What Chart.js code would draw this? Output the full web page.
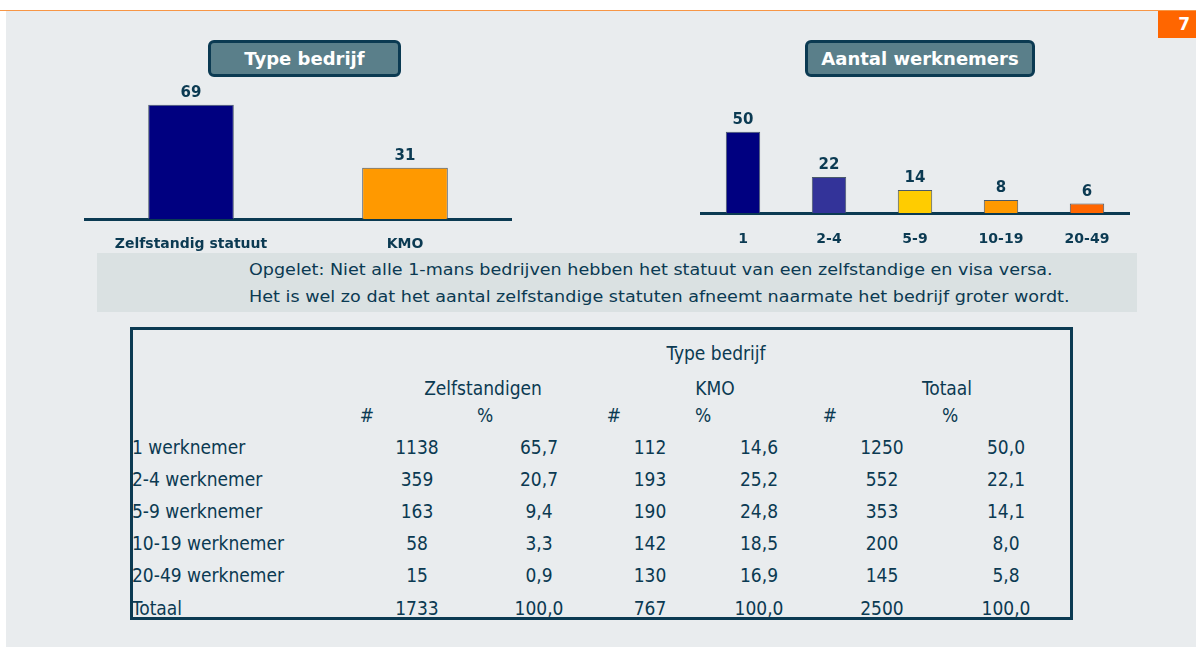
<!DOCTYPE html>
<html>
<head>
<meta charset="utf-8">
<script src="https://cdn.jsdelivr.net/npm/chart.js@4/dist/chart.umd.min.js"></script>
<style>
  html, body { margin: 0; padding: 0; background: #fff; }
  body { width: 1196px; height: 647px; position: relative; overflow: hidden; font-family: "DejaVu Sans", Verdana, sans-serif; color: #0b3a52; }
  #topline { position: absolute; left: 0; top: 10px; width: 1196px; height: 1px; background: #f79646; }
  #page { position: absolute; left: 6px; top: 11px; width: 1190px; height: 636px; background: #e9ecee; }
  #badge { position: absolute; left: 1158px; top: 11px; width: 38px; height: 27px; background: #ff6600; color: #fff; font: bold 17px "DejaVu Sans", sans-serif; text-align: right; box-sizing: border-box; padding-right: 6px; line-height: 27px; }
  .title { position: absolute; top: 40px; height: 37px; box-sizing: border-box; border: 3px solid #0b3a52; border-radius: 6px; background: #5a7f8a; color: #fff; font: bold 18px "DejaVu Sans", sans-serif; text-align: center; line-height: 31px; white-space: nowrap; }
  .wrap { position: absolute; }
  #note { position: absolute; left: 97px; top: 253px; width: 1040px; height: 59px; background: #dae1e2; }
  #note div { position: absolute; left: 152px; font: 15px "DejaVu Sans Condensed", "DejaVu Sans", sans-serif; white-space: nowrap; transform-origin: 0 50%; }
  #tbl { position: absolute; left: 130px; top: 327px; width: 943px; height: 293px; box-sizing: border-box; border: 3px solid #0b3a52; }
  .cell { position: absolute; font: 19px "DejaVu Sans Condensed", "DejaVu Sans", sans-serif; white-space: nowrap; transform: translate(-50%, -50%); }
  .lbl { position: absolute; font: 19px "DejaVu Sans Condensed", "DejaVu Sans", sans-serif; white-space: nowrap; transform: translateY(-50%); }
</style>
</head>
<body>
<div id="topline"></div>
<div id="page"></div>
<div id="badge">7</div>

<div class="title" style="left:208px;width:193px;">Type bedrijf</div>
<div class="title" style="left:805px;width:230px;">Aantal werknemers</div>

<div class="wrap" style="left:84px;top:70px;width:428px;height:190px;"><canvas id="typeChart"></canvas></div>
<div class="wrap" style="left:700px;top:70px;width:430px;height:184px;"><canvas id="sizeChart"></canvas></div>

<div id="note">
  <div id="note1" style="top:8px;">Opgelet: Niet alle 1-mans bedrijven hebben het statuut van een zelfstandige en visa versa.</div>
  <div id="note2" style="top:35px;">Het is wel zo dat het aantal zelfstandige statuten afneemt naarmate het bedrijf groter wordt.</div>
</div>

<div id="tbl"></div>
<div id="cells"></div>

<script>
// top charts
const typeLabels = ["Zelfstandig statuut", "KMO"];
const typeValues = [69, 31];
const typeColors = ["#000080", "#ff9900"];

const sizeLabels = ["1", "2-4", "5-9", "10-19", "20-49"];
const sizeValues = [50.0, 22.1, 14.1, 8.0, 5.8];
const sizeColors = ["#000080", "#333399", "#ffcc00", "#ff9900", "#ff6600"];

// table
const rowLabels = ["1 werknemer", "2-4 werknemer", "5-9 werknemer", "10-19 werknemer", "20-49 werknemer", "Totaal"];
const zelfN = ["1138", "359", "163", "58", "15", "1733"];
const zelfP = ["65,7", "20,7", "9,4", "3,3", "0,9", "100,0"];
const kmoN = ["112", "193", "190", "142", "130", "767"];
const kmoP = ["14,6", "25,2", "24,8", "18,5", "16,9", "100,0"];
const totN = ["1250", "552", "353", "200", "145", "2500"];
const totP = ["50,0", "22,1", "14,1", "8,0", "5,8", "100,0"];

const dark = "#0b3a52";

// value labels above the bars
const barValues = {
  id: "barValues",
  afterDatasetsDraw(chart) {
    const ctx = chart.ctx;
    const meta = chart.getDatasetMeta(0);
    ctx.save();
    ctx.font = "bold 15px 'DejaVu Sans', sans-serif";
    ctx.fillStyle = dark;
    ctx.textAlign = "center";
    ctx.textBaseline = "bottom";
    meta.data.forEach((bar, i) => {
      const v = chart.data.datasets[0].data[i];
      ctx.fillText(Math.round(v), bar.x, bar.y - 4);
    });
    ctx.restore();
  }
};

function makeBarChart(el, labels, values, colors, yMax, tickPad) {
  return new Chart(document.getElementById(el), {
    type: "bar",
    plugins: [barValues],
    data: {
      labels: labels,
      datasets: [{
        data: values,
        backgroundColor: colors,
        borderColor: "#4a5a6a",
        borderWidth: 1,
        barPercentage: 0.4,
        categoryPercentage: 1
      }]
    },
    options: {
      responsive: true,
      maintainAspectRatio: false,
      animation: false,
      layout: { padding: 0 },
      plugins: { legend: { display: false }, tooltip: { enabled: false } },
      scales: {
        x: {
          grid: { display: false, drawTicks: false },
          border: { display: true, color: dark, width: 3 },
          ticks: { color: dark, font: { family: "DejaVu Sans", size: 14, weight: "bold" }, padding: tickPad, maxRotation: 0 },
          afterFit: (axis) => { axis.height = 41; }
        },
        y: { display: false, min: 0, max: yMax }
      }
    }
  });
}

makeBarChart("typeChart", typeLabels, typeValues, typeColors, 90, 17);
makeBarChart("sizeChart", sizeLabels, sizeValues, sizeColors, 88, 18);

// table text
const cells = document.getElementById("cells");
function put(text, x, y, cls) {
  const d = document.createElement("div");
  d.className = cls || "cell";
  d.textContent = text;
  d.style.left = x + "px";
  d.style.top = y + "px";
  cells.appendChild(d);
}
put("Type bedrijf", 716, 353);
put("Zelfstandigen", 483, 388);
put("KMO", 715, 388);
put("Totaal", 947, 388);
[367, 485, 614, 703, 830, 950].forEach((x, i) => put(i % 2 ? "%" : "#", x, 415));

const colX = [417, 539, 650, 759, 882, 1006];
const rowY = [447, 479, 511, 543, 575, 608];
const cols = [zelfN, zelfP, kmoN, kmoP, totN, totP];
rowLabels.forEach((lab, r) => {
  put(lab, 132, rowY[r], "lbl");
  cols.forEach((col, c) => put(col[r], colX[c], rowY[r]));
});

// squeeze the note lines to the width they have in the slide
[["note1", 804], ["note2", 821]].forEach(([id, w]) => {
  const el = document.getElementById(id);
  el.style.transform = "scaleX(" + (w / el.offsetWidth) + ")";
});
</script>
</body>
</html>
